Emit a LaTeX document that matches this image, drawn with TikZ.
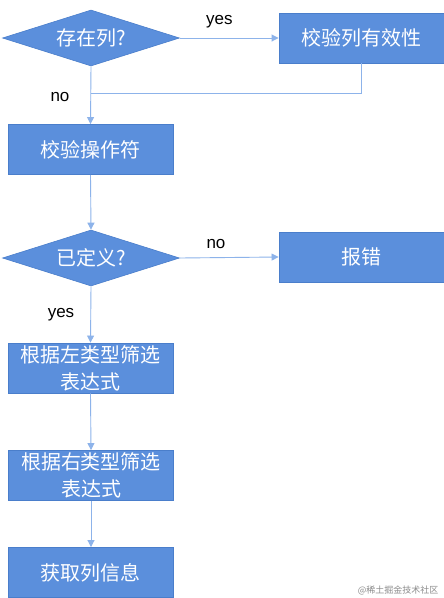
\documentclass[tikz,border=0pt]{standalone}
\usepackage{fontspec}
\setmainfont{Liberation Sans}
\newfontfamily\cjk{Noto Sans CJK SC}
\usetikzlibrary{shapes.geometric,arrows.meta}
\definecolor{boxfill}{HTML}{5B8FDC}
\definecolor{boxline}{HTML}{4A7ECB}
\definecolor{arrowc}{HTML}{8DB3EA}
\tikzset{
  procbox/.style={draw=boxline, line width=0.9pt, fill=boxfill, text=white,
    minimum width=165pt, minimum height=50pt, inner sep=0pt,
    font=\cjk\fontsize{20}{27}\selectfont, align=center},
  decide/.style={diamond, draw=boxline, line width=0.6pt, fill=boxfill, text=white,
    aspect=3.16, minimum width=177pt, minimum height=56pt, inner sep=0pt,
    font=\cjk\fontsize{20}{24}\selectfont},
  flow/.style={draw=arrowc, line width=0.9pt, -{Triangle[width=7pt,length=7pt]}},
  plain/.style={draw=arrowc, line width=0.9pt},
  lbl/.style={font=\fontsize{17}{20}\selectfont, text=black, inner sep=0pt}
}
\begin{document}
\begin{tikzpicture}[x=1pt,y=-1pt]
\useasboundingbox (0,0) rectangle (444,598);
\fill[white] (0,0) rectangle (444,598);
\node[decide] (d1) at (91,38) {存在列?};
\node[procbox] (chk) at (361.5,38) {校验列有效性};
\node[procbox] (op) at (90.5,149.5) {校验操作符};
\node[decide] (d2) at (91,258) {已定义?};
\node[procbox] (err) at (361.5,257) {报错};
\node[procbox] (left) at (90.5,368) {根据左类型筛选\\表达式};
\node[procbox] (right) at (91,475.5) {根据右类型筛选\\表达式};
\node[procbox] (info) at (91,572.5) {获取列信息};
\coordinate (j) at (91,93);
\draw[flow] (d1.east) -- (chk.west) node[lbl, pos=0.4, above=10pt] {yes};
\draw[plain] (chk.south) |- (j);
\draw[flow] (d1.south) -- (op.north);
\node[lbl] (no1) at (60,97) {no};
\draw[flow] (op.south) -- (d2.north);
\draw[flow] (d2.east) -- (err.west);
\node[lbl] (no2) at (216,244) {no};
\draw[flow] (d2.south) -- (left.north);
\node[lbl] (yes2) at (61,315) {yes};
\draw[flow] (left.south) -- (right.north);
\draw[flow] (right.south) -- (info.north);
\node[font=\cjk\fontsize{9}{10}\selectfont, text=black!45, anchor=east] (wm) at (442,590) {@稀土掘金技术社区};
\end{tikzpicture}
\end{document}
